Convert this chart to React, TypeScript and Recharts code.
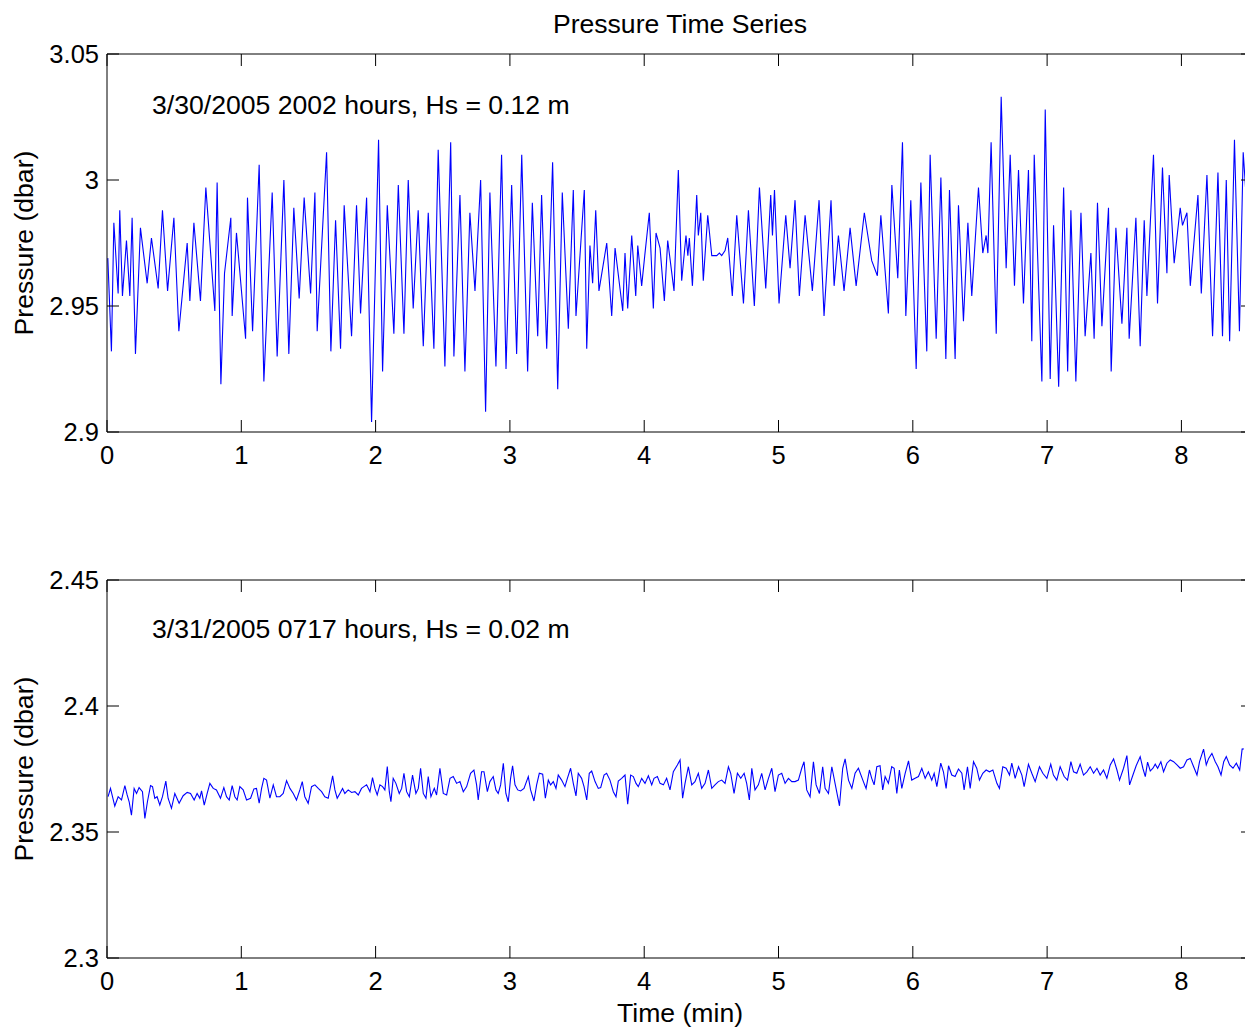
import React from "react";
import { LineChart, Line, XAxis, YAxis } from "recharts";

// ---------- data ----------
const topTimes = [
  0.006, 0.033, 0.051, 0.083, 0.095, 0.115, 0.145, 0.170, 0.187, 0.212, 0.249, 0.299, 0.331, 0.381, 0.413, 0.451,
  0.498, 0.535, 0.597, 0.617, 0.647, 0.696, 0.736, 0.803, 0.820, 0.848, 0.875, 0.922, 0.932, 0.964, 1.032, 1.046,
  1.084, 1.133, 1.168, 1.230, 1.267, 1.317, 1.354, 1.391, 1.431, 1.468, 1.516, 1.548, 1.565, 1.635, 1.667, 1.702,
  1.739, 1.766, 1.821, 1.858, 1.888, 1.933, 1.970, 2.022, 2.052, 2.087, 2.136, 2.169, 2.211, 2.243, 2.280, 2.317,
  2.355, 2.392, 2.434, 2.466, 2.516, 2.559, 2.583, 2.628, 2.665, 2.702, 2.740, 2.782, 2.819, 2.851, 2.896, 2.938,
  2.971, 3.013, 3.050, 3.088, 3.132, 3.167, 3.207, 3.236, 3.274, 3.318, 3.356, 3.390, 3.435, 3.472, 3.492, 3.554,
  3.572, 3.596, 3.616, 3.639, 3.663, 3.721, 3.758, 3.783, 3.840, 3.857, 3.877, 3.907, 3.937, 3.952, 3.981, 4.006,
  4.038, 4.068, 4.088, 4.118, 4.150, 4.175, 4.222, 4.254, 4.279, 4.311, 4.325, 4.336, 4.359, 4.391, 4.403, 4.421,
  4.440, 4.473, 4.503, 4.540, 4.560, 4.577, 4.602, 4.622, 4.656, 4.689, 4.739, 4.776, 4.820, 4.858, 4.905, 4.942,
  4.955, 4.970, 5.004, 5.054, 5.086, 5.123, 5.155, 5.198, 5.252, 5.302, 5.339, 5.391, 5.414, 5.446, 5.488, 5.533,
  5.578, 5.639, 5.694, 5.736, 5.762, 5.818, 5.844, 5.888, 5.923, 5.948, 5.985, 6.025, 6.060, 6.104, 6.129, 6.174,
  6.209, 6.246, 6.273, 6.315, 6.340, 6.377, 6.410, 6.439, 6.489, 6.521, 6.546, 6.559, 6.583, 6.621, 6.658, 6.695,
  6.725, 6.757, 6.787, 6.824, 6.861, 6.886, 6.904, 6.961, 6.986, 7.023, 7.048, 7.086, 7.123, 7.153, 7.177, 7.214,
  7.252, 7.283, 7.326, 7.350, 7.375, 7.408, 7.457, 7.477, 7.512, 7.557, 7.594, 7.611, 7.661, 7.693, 7.723, 7.743,
  7.792, 7.822, 7.859, 7.892, 7.909, 7.946, 7.991, 8.008, 8.041, 8.066, 8.123, 8.148, 8.190, 8.232, 8.272, 8.306,
  8.334, 8.359, 8.395, 8.432, 8.460, 8.490,
];
const topPressure = [
  2.969, 2.932, 2.983, 2.955, 2.988, 2.954, 2.976, 2.954, 2.985, 2.931, 2.981, 2.959, 2.977, 2.957, 2.988, 2.956,
  2.985, 2.940, 2.975, 2.952, 2.983, 2.952, 2.997, 2.948, 2.999, 2.919, 2.963, 2.985, 2.946, 2.979, 2.937, 2.993,
  2.940, 3.006, 2.920, 2.995, 2.930, 3.000, 2.931, 2.989, 2.953, 2.993, 2.955, 2.995, 2.940, 3.011, 2.932, 2.984,
  2.933, 2.990, 2.938, 2.990, 2.947, 2.993, 2.904, 3.016, 2.924, 2.990, 2.939, 2.998, 2.939, 3.000, 2.949, 2.988,
  2.934, 2.987, 2.933, 3.012, 2.926, 3.015, 2.930, 2.994, 2.924, 2.987, 2.956, 3.000, 2.908, 2.995, 2.926, 3.010,
  2.925, 2.998, 2.931, 3.010, 2.924, 2.991, 2.938, 2.994, 2.933, 3.007, 2.917, 2.995, 2.941, 2.996, 2.946, 2.996,
  2.933, 2.974, 2.959, 2.988, 2.956, 2.975, 2.946, 2.973, 2.948, 2.971, 2.949, 2.978, 2.954, 2.974, 2.958, 2.971,
  2.987, 2.949, 2.979, 2.973, 2.952, 2.976, 2.956, 3.004, 2.960, 2.978, 2.970, 2.977, 2.958, 2.994, 2.978, 2.987,
  2.960, 2.986, 2.970, 2.970, 2.971, 2.970, 2.972, 2.977, 2.954, 2.986, 2.951, 2.988, 2.950, 2.997, 2.957, 2.994,
  2.978, 2.996, 2.951, 2.986, 2.965, 2.992, 2.954, 2.986, 2.956, 2.992, 2.946, 2.992, 2.958, 2.978, 2.956, 2.981,
  2.958, 2.987, 2.968, 2.962, 2.986, 2.947, 2.998, 2.961, 3.015, 2.946, 2.992, 2.925, 2.999, 2.932, 3.010, 2.937,
  3.001, 2.929, 2.996, 2.929, 2.990, 2.944, 2.983, 2.954, 2.997, 2.971, 2.978, 2.971, 3.015, 2.939, 3.033, 2.965,
  3.010, 2.958, 3.004, 2.951, 3.004, 2.936, 3.010, 2.920, 3.028, 2.921, 2.982, 2.918, 2.997, 2.924, 2.988, 2.920,
  2.987, 2.938, 2.971, 2.937, 2.991, 2.942, 2.989, 2.924, 2.981, 2.943, 2.981, 2.937, 2.985, 2.934, 2.984, 2.954,
  3.010, 2.951, 3.005, 2.963, 3.002, 2.967, 2.989, 2.982, 2.987, 2.958, 2.994, 2.955, 3.002, 2.938, 3.003, 2.938,
  3.000, 2.936, 3.016, 2.940, 3.011, 2.987,
];

const bottomTimes = [
  0.008, 0.026, 0.058, 0.083, 0.108, 0.133, 0.150, 0.165, 0.182, 0.202, 0.220, 0.239, 0.264, 0.282, 0.301, 0.324,
  0.339, 0.356, 0.373, 0.393, 0.413, 0.438, 0.455, 0.480, 0.505, 0.537, 0.567, 0.597, 0.622, 0.649, 0.671, 0.691,
  0.704, 0.724, 0.746, 0.766, 0.791, 0.815, 0.845, 0.870, 0.890, 0.910, 0.932, 0.952, 0.969, 0.989, 1.014, 1.039,
  1.069, 1.094, 1.113, 1.133, 1.151, 1.168, 1.188, 1.213, 1.238, 1.262, 1.287, 1.312, 1.337, 1.362, 1.387, 1.411,
  1.436, 1.454, 1.473, 1.498, 1.523, 1.548, 1.573, 1.598, 1.622, 1.647, 1.680, 1.697, 1.714, 1.734, 1.754, 1.771,
  1.796, 1.821, 1.846, 1.871, 1.895, 1.913, 1.933, 1.958, 1.977, 1.995, 2.012, 2.032, 2.052, 2.069, 2.087, 2.102,
  2.114, 2.131, 2.151, 2.176, 2.194, 2.211, 2.231, 2.251, 2.275, 2.300, 2.318, 2.335, 2.355, 2.375, 2.392, 2.412,
  2.437, 2.454, 2.479, 2.504, 2.529, 2.554, 2.578, 2.603, 2.628, 2.653, 2.678, 2.707, 2.732, 2.752, 2.764, 2.789,
  2.807, 2.832, 2.851, 2.876, 2.896, 2.913, 2.931, 2.951, 2.970, 2.988, 3.005, 3.020, 3.038, 3.058, 3.080, 3.105,
  3.137, 3.154, 3.179, 3.199, 3.219, 3.244, 3.264, 3.286, 3.303, 3.323, 3.343, 3.360, 3.385, 3.410, 3.428, 3.452,
  3.472, 3.492, 3.509, 3.534, 3.552, 3.572, 3.591, 3.609, 3.634, 3.658, 3.676, 3.701, 3.720, 3.745, 3.770, 3.790,
  3.807, 3.832, 3.857, 3.877, 3.899, 3.919, 3.939, 3.956, 3.981, 4.006, 4.031, 4.056, 4.073, 4.098, 4.118, 4.143,
  4.167, 4.192, 4.217, 4.247, 4.267, 4.286, 4.304, 4.329, 4.354, 4.378, 4.403, 4.428, 4.453, 4.478, 4.503, 4.527,
  4.552, 4.577, 4.602, 4.627, 4.644, 4.669, 4.694, 4.719, 4.744, 4.763, 4.783, 4.801, 4.825, 4.850, 4.875, 4.900,
  4.925, 4.950, 4.974, 4.999, 5.024, 5.049, 5.074, 5.099, 5.123, 5.148, 5.173, 5.190, 5.210, 5.235, 5.260, 5.280,
  5.305, 5.329, 5.347, 5.372, 5.397, 5.421, 5.454, 5.478, 5.496, 5.521, 5.546, 5.570, 5.595, 5.632, 5.652, 5.677,
  5.694, 5.712, 5.732, 5.756, 5.776, 5.794, 5.818, 5.843, 5.861, 5.881, 5.900, 5.918, 5.943, 5.968, 5.992, 6.017,
  6.042, 6.067, 6.092, 6.116, 6.141, 6.159, 6.179, 6.208, 6.228, 6.248, 6.266, 6.290, 6.315, 6.340, 6.365, 6.382,
  6.407, 6.427, 6.452, 6.476, 6.496, 6.521, 6.546, 6.571, 6.596, 6.626, 6.645, 6.670, 6.695, 6.720, 6.737, 6.762,
  6.787, 6.812, 6.829, 6.861, 6.886, 6.911, 6.943, 6.968, 6.998, 7.027, 7.047, 7.072, 7.097, 7.127, 7.152, 7.177,
  7.197, 7.221, 7.246, 7.271, 7.296, 7.321, 7.346, 7.371, 7.395, 7.420, 7.445, 7.470, 7.495, 7.520, 7.539, 7.569,
  7.594, 7.614, 7.639, 7.663, 7.693, 7.713, 7.731, 7.748, 7.768, 7.788, 7.805, 7.823, 7.847, 7.867, 7.892, 7.917,
  7.942, 7.967, 7.991, 8.016, 8.041, 8.066, 8.091, 8.116, 8.135, 8.165, 8.185, 8.203, 8.227, 8.252, 8.272, 8.295,
  8.315, 8.334, 8.359, 8.384, 8.409, 8.434, 8.452, 8.464,
];
const bottomPressure = [
  2.3640, 2.3673, 2.3603, 2.3640, 2.3627, 2.3684, 2.3647, 2.3620, 2.3567, 2.3673, 2.3653, 2.3676, 2.3660, 2.3554, 2.3620, 2.3684,
  2.3680, 2.3634, 2.3640, 2.3607, 2.3640, 2.3702, 2.3634, 2.3594, 2.3653, 2.3614, 2.3644, 2.3657, 2.3653, 2.3627, 2.3653, 2.3634,
  2.3663, 2.3607, 2.3653, 2.3693, 2.3673, 2.3667, 2.3634, 2.3676, 2.3640, 2.3627, 2.3684, 2.3640, 2.3627, 2.3680, 2.3667, 2.3627,
  2.3634, 2.3671, 2.3673, 2.3614, 2.3673, 2.3713, 2.3706, 2.3634, 2.3687, 2.3640, 2.3640, 2.3653, 2.3704, 2.3673, 2.3653, 2.3627,
  2.3667, 2.3700, 2.3640, 2.3614, 2.3680, 2.3687, 2.3673, 2.3660, 2.3640, 2.3634, 2.3723, 2.3667, 2.3634, 2.3653, 2.3673, 2.3653,
  2.3667, 2.3657, 2.3660, 2.3647, 2.3673, 2.3680, 2.3687, 2.3660, 2.3716, 2.3673, 2.3647, 2.3687, 2.3680, 2.3667, 2.3760, 2.3660,
  2.3620, 2.3713, 2.3693, 2.3653, 2.3673, 2.3733, 2.3660, 2.3640, 2.3726, 2.3653, 2.3673, 2.3753, 2.3653, 2.3634, 2.3720, 2.3640,
  2.3673, 2.3647, 2.3753, 2.3653, 2.3647, 2.3713, 2.3720, 2.3693, 2.3700, 2.3660, 2.3680, 2.3733, 2.3746, 2.3687, 2.3627, 2.3739,
  2.3739, 2.3660, 2.3700, 2.3720, 2.3667, 2.3653, 2.3687, 2.3773, 2.3653, 2.3620, 2.3713, 2.3763, 2.3687, 2.3667, 2.3663, 2.3673,
  2.3720, 2.3667, 2.3623, 2.3687, 2.3733, 2.3729, 2.3634, 2.3706, 2.3687, 2.3700, 2.3673, 2.3726, 2.3706, 2.3680, 2.3713, 2.3753,
  2.3693, 2.3643, 2.3733, 2.3713, 2.3680, 2.3627, 2.3733, 2.3742, 2.3700, 2.3673, 2.3676, 2.3726, 2.3733, 2.3706, 2.3660, 2.3640,
  2.3702, 2.3713, 2.3726, 2.3610, 2.3726, 2.3720, 2.3693, 2.3680, 2.3713, 2.3693, 2.3723, 2.3687, 2.3713, 2.3720, 2.3693, 2.3687,
  2.3713, 2.3667, 2.3739, 2.3766, 2.3786, 2.3634, 2.3693, 2.3759, 2.3687, 2.3700, 2.3733, 2.3673, 2.3693, 2.3746, 2.3673, 2.3687,
  2.3700, 2.3706, 2.3693, 2.3759, 2.3733, 2.3653, 2.3733, 2.3713, 2.3733, 2.3693, 2.3627, 2.3753, 2.3667, 2.3687, 2.3733, 2.3667,
  2.3713, 2.3753, 2.3660, 2.3726, 2.3733, 2.3693, 2.3713, 2.3700, 2.3700, 2.3706, 2.3753, 2.3779, 2.3667, 2.3640, 2.3779, 2.3687,
  2.3653, 2.3759, 2.3673, 2.3653, 2.3759, 2.3693, 2.3604, 2.3753, 2.3790, 2.3706, 2.3673, 2.3733, 2.3753, 2.3700, 2.3673, 2.3746,
  2.3713, 2.3687, 2.3759, 2.3763, 2.3667, 2.3720, 2.3693, 2.3759, 2.3753, 2.3653, 2.3746, 2.3673, 2.3733, 2.3782, 2.3706, 2.3713,
  2.3720, 2.3753, 2.3713, 2.3739, 2.3706, 2.3733, 2.3680, 2.3773, 2.3739, 2.3673, 2.3763, 2.3726, 2.3720, 2.3750, 2.3733, 2.3667,
  2.3759, 2.3673, 2.3779, 2.3753, 2.3706, 2.3733, 2.3746, 2.3739, 2.3746, 2.3693, 2.3673, 2.3759, 2.3753, 2.3726, 2.3773, 2.3713,
  2.3759, 2.3726, 2.3680, 2.3769, 2.3733, 2.3700, 2.3759, 2.3733, 2.3713, 2.3769, 2.3726, 2.3706, 2.3759, 2.3720, 2.3706, 2.3779,
  2.3739, 2.3733, 2.3769, 2.3726, 2.3739, 2.3759, 2.3733, 2.3753, 2.3726, 2.3746, 2.3713, 2.3766, 2.3790, 2.3746, 2.3706, 2.3753,
  2.3803, 2.3687, 2.3726, 2.3763, 2.3799, 2.3753, 2.3720, 2.3777, 2.3742, 2.3753, 2.3769, 2.3753, 2.3779, 2.3739, 2.3773, 2.3786,
  2.3779, 2.3766, 2.3753, 2.3759, 2.3786, 2.3792, 2.3759, 2.3726, 2.3779, 2.3829, 2.3766, 2.3792, 2.3812, 2.3779, 2.3759, 2.3726,
  2.3779, 2.3799, 2.3766, 2.3753, 2.3773, 2.3746, 2.3829, 2.3830,
];

const timeTicks = [0, 1, 2, 3, 4, 5, 6, 7, 8];
const timeDomain = [0, 8.533];
const topTicks = [2.9, 2.95, 3, 3.05];
const bottomTicks = [2.3, 2.35, 2.4, 2.45];

const titleText = "Pressure Time Series";
const topNote = "3/30/2005 2002 hours, Hs = 0.12 m";
const bottomNote = "3/31/2005 0717 hours, Hs = 0.02 m";
const yLabel = "Pressure (dbar)";
const xLabel = "Time (min)";

const topData = topTimes.map((t, i) => ({ t, p: topPressure[i] }));
const bottomData = bottomTimes.map((t, i) => ({ t, p: bottomPressure[i] }));

// ---------- styling ----------
const FONT = "'Liberation Sans', Arial, Helvetica, sans-serif";
const TICK = 12;
const TICK_FONT = 25.5;
const LABEL_FONT = 26.6;
const AXIS = "#000";

const fmt = (v: number) => String(Number(Number(v).toFixed(3)));

const XTickBottom = (props: any) => {
  const { x, y, payload } = props;
  return (
    <g>
      <line x1={x} y1={y} x2={x} y2={y - TICK} stroke={AXIS} strokeWidth={1} />
      <text x={x} y={y + 32} textAnchor="middle" fontSize={TICK_FONT} fontFamily={FONT} fill="#000">
        {fmt(payload.value)}
      </text>
    </g>
  );
};
const XTickTop = (props: any) => {
  const { x, y } = props;
  return <line x1={x} y1={y} x2={x} y2={y + TICK} stroke={AXIS} strokeWidth={1} />;
};
const YTickLeft = (props: any) => {
  const { x, y, payload } = props;
  return (
    <g>
      <line x1={x} y1={y} x2={x + TICK} y2={y} stroke={AXIS} strokeWidth={1} />
      <text x={x - 8} y={y + 8.8} textAnchor="end" fontSize={TICK_FONT} fontFamily={FONT} fill="#000">
        {fmt(payload.value)}
      </text>
    </g>
  );
};
const YTickRight = (props: any) => {
  const { x, y } = props;
  return <line x1={x} y1={y} x2={x - TICK} y2={y} stroke={AXIS} strokeWidth={1} />;
};

const CHART_W = 1261;
const CHART_H = 472;

function Panel({ data, ticks }: { data: { t: number; p: number }[]; ticks: number[] }) {
  const domain = [ticks[0], ticks[ticks.length - 1]];
  return (
    <LineChart width={CHART_W} height={CHART_H} data={data} margin={{ top: 53, right: 7, bottom: 0, left: 0 }}>
      <XAxis
        xAxisId="bottom"
        dataKey="t"
        type="number"
        domain={timeDomain}
        ticks={timeTicks}
        allowDataOverflow
        height={40}
        tickSize={0}
        tickMargin={0}
        tickLine={false}
        axisLine={{ stroke: AXIS, strokeWidth: 1 }}
        tick={<XTickBottom />}
        interval={0}
      />
      <XAxis
        xAxisId="top"
        orientation="top"
        dataKey="t"
        type="number"
        domain={timeDomain}
        ticks={timeTicks}
        allowDataOverflow
        height={1}
        tickSize={0}
        tickMargin={0}
        tickLine={false}
        axisLine={{ stroke: AXIS, strokeWidth: 1 }}
        tick={<XTickTop />}
        interval={0}
      />
      <YAxis
        yAxisId="left"
        type="number"
        domain={domain}
        ticks={ticks}
        allowDataOverflow
        width={107}
        tickSize={0}
        tickMargin={0}
        tickLine={false}
        axisLine={{ stroke: AXIS, strokeWidth: 1 }}
        tick={<YTickLeft />}
        interval={0}
      />
      <YAxis
        yAxisId="right"
        orientation="right"
        dataKey="p"
        type="number"
        domain={domain}
        ticks={ticks}
        allowDataOverflow
        width={1}
        tickSize={0}
        tickMargin={0}
        tickLine={false}
        axisLine={{ stroke: AXIS, strokeWidth: 1 }}
        tick={<YTickRight />}
        interval={0}
      />
      <Line
        xAxisId="bottom"
        yAxisId="left"
        type="linear"
        dataKey="p"
        stroke="#0000ff"
        strokeWidth={1.1}
        dot={false}
        activeDot={false}
        isAnimationActive={false}
      />
    </LineChart>
  );
}

export default function App() {
  return (
    <div
      style={{
        position: "fixed",
        left: 0,
        top: 0,
        width: 1245,
        height: 1029,
        overflow: "hidden",
        background: "#fff",
        fontFamily: FONT,
      }}
    >
      <div style={{ position: "absolute", left: 0, top: 0 }}>
        <Panel data={topData} ticks={topTicks} />
      </div>
      <div style={{ position: "absolute", left: 0, top: 526 }}>
        <Panel data={bottomData} ticks={bottomTicks} />
      </div>
      <svg
        width={1245}
        height={1029}
        style={{ position: "absolute", left: 0, top: 0, pointerEvents: "none" }}
      >
        <text x={680} y={33} textAnchor="middle" fontSize={LABEL_FONT} fontFamily={FONT} fill="#000">
          {titleText}
        </text>
        <text x={152} y={114} fontSize={LABEL_FONT} fontFamily={FONT} fill="#000">
          {topNote}
        </text>
        <text x={152} y={638} fontSize={LABEL_FONT} fontFamily={FONT} fill="#000">
          {bottomNote}
        </text>
        <text
          x={33}
          y={243}
          textAnchor="middle"
          fontSize={LABEL_FONT}
          fontFamily={FONT}
          fill="#000"
          transform="rotate(-90 33 243)"
        >
          {yLabel}
        </text>
        <text
          x={33}
          y={769}
          textAnchor="middle"
          fontSize={LABEL_FONT}
          fontFamily={FONT}
          fill="#000"
          transform="rotate(-90 33 769)"
        >
          {yLabel}
        </text>
        <text x={680} y={1022} textAnchor="middle" fontSize={LABEL_FONT} fontFamily={FONT} fill="#000">
          {xLabel}
        </text>
      </svg>
    </div>
  );
}
